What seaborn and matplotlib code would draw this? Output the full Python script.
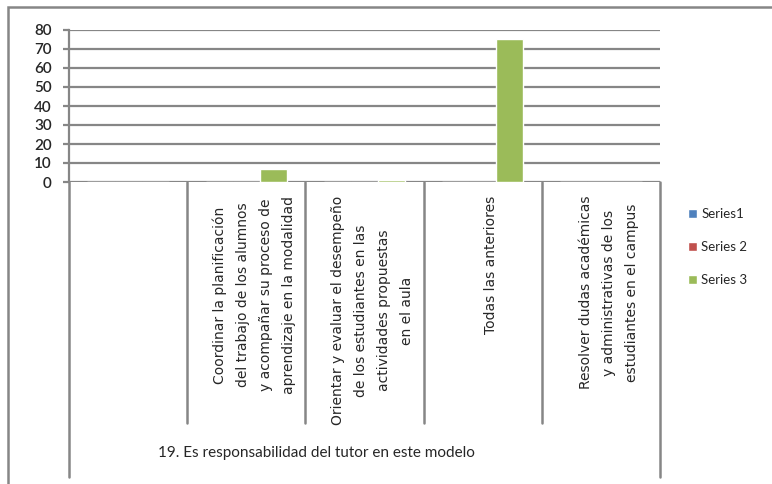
import matplotlib
matplotlib.use("Agg")
import matplotlib.pyplot as plt
import matplotlib.transforms as mtransforms
from matplotlib.patches import Rectangle
import seaborn as sns
import pandas as pd

# ---- data ----
categories = [
    "",
    "Coordinar la planificación\ndel trabajo de los alumnos\ny acompañar su proceso de\naprendizaje en la modalidad",
    "Orientar y evaluar el desempeño\nde los estudiantes en las\nactividades propuestas\nen el aula",
    "Todas las anteriores",
    "Resolver dudas académicas\ny administrativas de los\nestudiantes en el campus",
]
series_names = ["Series1", "Series 2", "Series 3"]
series1 = [0, 0, 0, 0, 0]
series2 = [0, 0, 0, 0, 0]
series3 = [0, 7, 1, 75, 0]
yticks = [0, 10, 20, 30, 40, 50, 60, 70, 80]
axis_title = "19. Es responsabilidad del tutor en este modelo"
colors = ["#4F81BD", "#C0504D", "#9BBB59"]

df = pd.DataFrame({
    "cat": categories * 3,
    "series": [series_names[0]] * 5 + [series_names[1]] * 5 + [series_names[2]] * 5,
    "value": series1 + series2 + series3,
})

sns.set_theme(style="white")
plt.rcParams['font.family'] = ['Lato', 'DejaVu Sans']

W, H = 772, 484
fig = plt.figure(figsize=(W / 100, H / 100), dpi=100)
fig.patch.set_facecolor("white")

def px(x0, y0, x1, y1):
    return [x0 / W, 1 - y1 / H, (x1 - x0) / W, (y1 - y0) / H]

ax = fig.add_axes(px(69, 30, 660, 182))
sns.barplot(data=df, x="cat", y="value", hue="series", order=categories,
            hue_order=series_names, palette=colors, width=0.69, saturation=1,
            errorbar=None, ax=ax)

grey = "#868686"
ax.set_ylim(0, 80)
ax.set_xlim(-0.5, len(categories) - 0.5)
ax.set_yticks(yticks)
ax.set_yticklabels([str(v) for v in yticks], fontsize=11, fontweight="semibold")
ax.yaxis.grid(True, color=grey, lw=1.6)
ax.set_axisbelow(True)
for s in ["top", "right", "bottom"]:
    ax.spines[s].set_visible(False)
ax.spines["left"].set_color(grey)
ax.spines["left"].set_linewidth(1.6)
ax.tick_params(axis="y", direction="out", length=4.5, width=1.6, color=grey, pad=8,
               left=True)
ax.set_xlabel("")
ax.set_ylabel("")

ax.set_xticks(range(len(categories)))
ax.set_xticklabels(categories, rotation=90, va="top", ha="center",
                   multialignment="center", linespacing=1.8, fontsize=10,
                   family=["DejaVu Sans"])
ax.tick_params(axis="x", length=0, pad=10)
offset = mtransforms.ScaledTranslation(8 / 100, 0, fig.dpi_scale_trans)
for lab in ax.get_xticklabels():
    lab.set_transform(lab.get_transform() + offset)

# category separators
trans = mtransforms.blended_transform_factory(ax.transData, ax.transAxes)
inner_bottom = -(423 - 182) / 152
outer_bottom = -(477 - 182) / 152
for i in range(len(categories) + 1):
    b = i - 0.5
    yb = outer_bottom if i in (0, len(categories)) else inner_bottom
    ax.plot([b, b], [0, yb], transform=trans, clip_on=False, color=grey, lw=1.8)

fig.text(316 / W, 1 - 453 / H, axis_title, ha="center", va="center", fontsize=11)

# legend
handles, labels = ax.get_legend_handles_labels()
if ax.get_legend() is not None:
    ax.get_legend().remove()
fig.legend(handles, labels, loc="upper left", bbox_to_anchor=(676 / W, 1 - 196 / H),
           frameon=False, handlelength=0.7, handleheight=0.7, handletextpad=0.3,
           labelspacing=1.6, fontsize=9.5)

# outer chart border
fig.patches.append(Rectangle((8 / W, 1 - 495 / H), (790 - 8) / W, (495 - 7) / H,
                             transform=fig.transFigure, fill=False, ec=grey, lw=1.8))

fig.savefig("out.png", dpi=100)
